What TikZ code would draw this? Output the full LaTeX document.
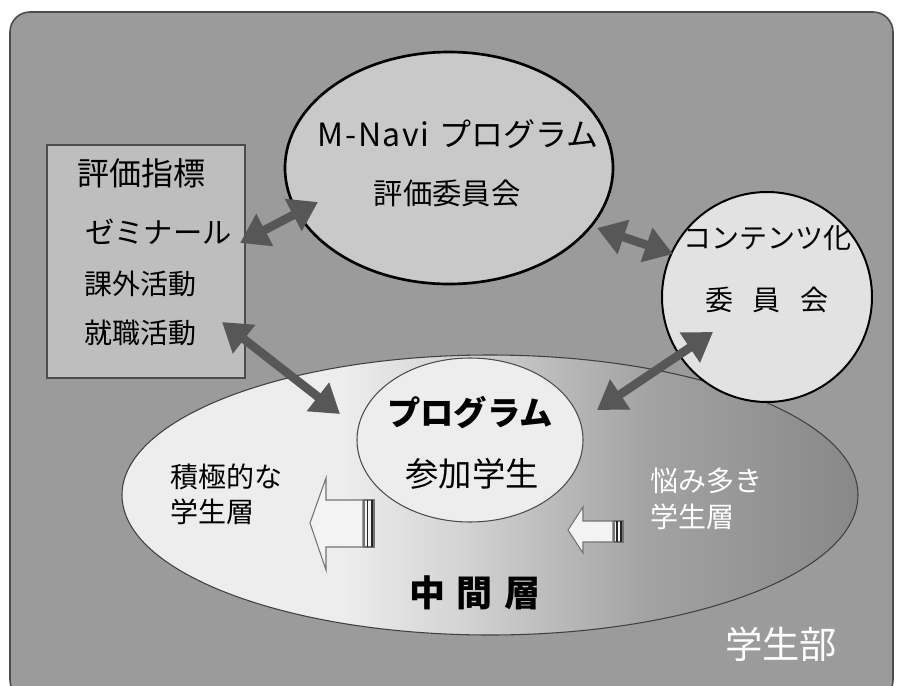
\documentclass[tikz,border=0pt]{standalone}
\usepackage{fontspec}
\setmainfont{Noto Sans CJK JP}
\usetikzlibrary{arrows.meta,shapes.geometric}
\definecolor{bgc}{HTML}{9B9B9B}
\definecolor{boxc}{HTML}{BEBEBE}
\definecolor{navic}{HTML}{C9C9C9}
\definecolor{contc}{HTML}{E2E2E2}
\definecolor{innc}{HTML}{EDEDED}
\definecolor{arrc}{HTML}{575757}
\definecolor{holc}{HTML}{F3F3F3}
\definecolor{sha}{HTML}{EDEDED}
\definecolor{shb}{HTML}{D2D2D2}
\definecolor{shc}{HTML}{B8B8B8}
\definecolor{shd}{HTML}{A2A2A2}
\definecolor{she}{HTML}{888888}
\pgfdeclarehorizontalshading{midshade}{100bp}{color(0bp)=(sha); color(40bp)=(sha); color(48.5bp)=(shb); color(55bp)=(shc); color(61bp)=(shd); color(75bp)=(she); color(100bp)=(she)}
\begin{document}
\begin{tikzpicture}[x=0.75pt,y=-0.75pt,
  dbl/.style={draw=arrc, line width=6.5pt, {Triangle[width=26pt,length=21pt]}-{Triangle[width=26pt,length=21pt]}},
  holl/.style={draw=black!55, line width=0.8pt, fill=holc},
  lbl/.style={inner sep=0pt, text=black},
  wlbl/.style={inner sep=0pt, text=white}]
\useasboundingbox (0,0) rectangle (897,686);
% background panel
\draw[fill=bgc, draw=black!70, line width=1.2pt, rounded corners=15pt] (10,12) rectangle (893,700);
% middle-layer ellipse
\node[ellipse, draw=black!75, line width=0.8pt, shading=midshade, minimum width=552pt, minimum height=210pt, inner sep=0pt] (mid) at (490,495) {};
% indicator box
\node[rectangle, draw=black!70, line width=0.8pt, fill=boxc, minimum width=148.5pt, minimum height=174.75pt, inner sep=0pt] (box) at (146,261.5) {};
% M-Navi ellipse
\node[ellipse, draw=black, line width=2pt, fill=navic, minimum width=246pt, minimum height=174pt, inner sep=0pt] (navi) at (449,168) {};
% contents circle
\node[ellipse, draw=black, line width=1.5pt, fill=contc, minimum width=157.5pt, minimum height=157.5pt, inner sep=0pt] (cont) at (767,297) {};
% inner circle
\node[ellipse, draw=black!70, line width=0.8pt, fill=innc, minimum width=169.5pt, minimum height=123pt, inner sep=0pt] (inner) at (470,440) {};

% texts
\node[lbl, font=\fontsize{24}{24}\selectfont] (t1) at (458,134) {M\hspace{1.5pt}-\hspace{1.5pt}N\hspace{1pt}a\hspace{1pt}v\hspace{1pt}i\hspace{8pt}プログラム};
\node[lbl, font=\fontsize{22}{22}\selectfont] (t2) at (447,193) {評価委員会};
\node[lbl, anchor=west, font=\fontsize{24}{24}\selectfont] (b1) at (77,173) {評価指標};
\node[lbl, anchor=west, font=\fontsize{22}{22}\selectfont] (b2) at (85,232) {ゼミナール};
\node[lbl, anchor=west, font=\fontsize{21}{21}\selectfont] (b3) at (84,284) {課外活動};
\node[lbl, anchor=west, font=\fontsize{21}{21}\selectfont] (b4) at (84,333) {就職活動};
\node[lbl, font=\fontsize{21}{21}\selectfont] (c1) at (767,238) {コンテンツ化};
\node[lbl, font=\fontsize{21}{21}\selectfont] (c2) at (767,300) {委\hspace{15pt}員\hspace{15pt}会};
\node[lbl, font=\bfseries\fontsize{25}{25}\selectfont] (p1) at (470,413) {プログラム};
\node[lbl, font=\fontsize{25}{25}\selectfont] (p2) at (472,474) {参加学生};
\node[lbl, anchor=west, font=\fontsize{21}{21}\selectfont] (s1) at (170,477) {積極的な};
\node[lbl, anchor=west, font=\fontsize{21}{21}\selectfont] (s2) at (170,512) {学生層};
\node[wlbl, anchor=west, font=\fontsize{21}{21}\selectfont] (s3) at (650,481) {悩み多き};
\node[wlbl, anchor=west, font=\fontsize{21}{21}\selectfont] (s4) at (650,517) {学生層};
\node[lbl, font=\bfseries\fontsize{27}{27}\selectfont] (m1) at (475,593) {中\hspace{9pt}間\hspace{9pt}層};
\node[wlbl, anchor=west, font=\fontsize{28}{28}\selectfont] (g1) at (725,644) {学生部};

% double arrows
\coordinate (a1s) at (240,243); \coordinate (a1e) at (318,202);
\coordinate (a2s) at (597,228); \coordinate (a2e) at (673,254);
\coordinate (a3s) at (222,322); \coordinate (a3e) at (340,414);
\coordinate (a4s) at (713,332); \coordinate (a4e) at (597,410);
\draw[dbl] (a1s) -- (a1e);
\draw[dbl] (a2s) -- (a2e);
\draw[dbl] (a3s) -- (a3e);
\draw[dbl] (a4s) -- (a4e);

% hollow block arrows
\draw[holl] (310,523) -- (326,478) -- (326,500) -- (363,500) -- (363,547) -- (326,547) -- (326,570) -- cycle;
\draw[holl] (364,500) rectangle (374,547);
\draw[black!85, line width=1.2pt] (367.5,500) -- (367.5,547);
\draw[black!85, line width=1.2pt] (372,500) -- (372,547);
\draw[holl] (568,530) -- (583,507) -- (583,521) -- (613,521) -- (613,542) -- (583,542) -- (583,553) -- cycle;
\draw[holl] (614,521) rectangle (623,542);
\draw[black!85, line width=1.2pt] (617,521) -- (617,542);
\draw[black!85, line width=1.2pt] (621,521) -- (621,542);
\end{tikzpicture}
\end{document}
